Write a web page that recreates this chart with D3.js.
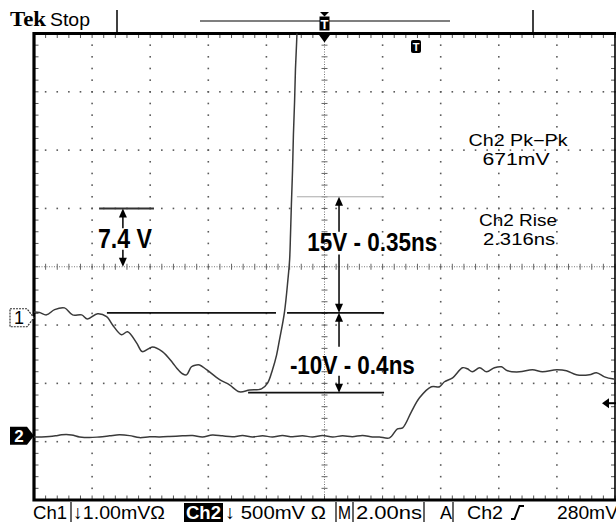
<!DOCTYPE html>
<html>
<head>
<meta charset="utf-8">
<script src="https://cdn.jsdelivr.net/npm/d3@7"></script>
<style>
  body { margin: 0; background: #fff; }
  svg { display: block; }
</style>
</head>
<body>
<div id="scope"></div>
<script>
// horizontal: 2 ns/div, trigger at centre of screen
const nsPerDiv = 2.0;
const ch1PerDiv = 1.0;   // mV/div
const ch2PerDiv = 500;   // mV/div
const ch1Offset = -0.875; // ground marker position, div
const ch2Offset = -2.9;
const triggerLevel = 280; // mV on Ch2

const ch1Time = [-10.0, -9.81, -9.57, -9.29, -8.95, -8.67, -8.36, -8.16, -7.81, -7.5, -7.3, -6.99, -6.78, -6.47, -6.27, -6.02, -5.92, -5.58, -5.23, -5.09, -4.89, -4.75, -4.58, -4.41, -4.3, -4.06, -3.61, -3.27, -2.93, -2.58, -2.17, -1.96, -1.79, -1.65, -1.55, -1.38, -1.26, -1.2, -1.17, -1.14, -1.1, -1.07, -1.03, -1.0, -0.96, -0.93];
const ch1Mv = [0.10, 0.09, 0.05, 0.14, 0.17, 0.05, 0.05, -0.02, 0.07, 0.02, -0.12, -0.29, -0.24, -0.43, -0.58, -0.52, -0.50, -0.58, -0.77, -0.86, -0.96, -0.98, -0.84, -0.81, -0.81, -0.89, -1.06, -1.15, -1.27, -1.24, -1.22, -1.12, -0.89, -0.64, -0.38, 0.09, 0.65, 1.00, 1.43, 1.94, 2.54, 3.14, 3.71, 4.26, 4.72, 5.12];

const ch2Time = [-10.0, -9.74, -9.47, -9.26, -9.05, -8.71, -8.43, -8.09, -7.75, -7.4, -7.06, -6.71, -6.37, -6.02, -5.68, -5.34, -4.89, -4.54, -4.2, -3.86, -3.51, -3.17, -2.82, -2.48, -2.13, -1.79, -1.45, -1.1, -0.76, -0.41, -0.07, 0.28, 0.62, 0.96, 1.31, 1.65, 1.89, 2.24, 2.51, 2.69, 2.99, 3.27, 3.68, 3.96, 4.13, 4.41, 4.75, 4.92, 5.09, 5.34, 5.58, 5.85, 6.09, 6.3, 6.71, 7.16, 7.5, 7.99, 8.33, 8.67, 9.12, 9.36, 9.64, 9.91, 10.0];
const ch2Mv = [-9, -9, -6, 0, 9, 8, -9, -15, -9, 0, 9, 2, -15, -8, -9, -6, 0, 3, -9, 8, 0, -7, 2, -9, 0, -9, 3, -8, 0, -9, 2, -9, 0, -7, 3, -9, -9, -17, 60, 69, 206, 326, 421, 421, 464, 498, 584, 575, 549, 584, 549, 584, 592, 558, 549, 567, 549, 567, 558, 524, 524, 541, 506, 489, 489];

const readouts = ["Ch2 Pk\u2212Pk", "671mV", "Ch2 Rise", "2.316ns"];
const statusText = ["Ch1", "\u21931.00mV\u03A9", "Ch2", "\u2193 500mV \u03A9", "M", "2.00ns", "A", "Ch2", "280mV"];

// hand-drawn measurement notes (time in ns, level in screen div)
const noteLabels = ["7.4 V", "15V - 0.35ns", "-10V - 0.4ns"];

const width = 616;
const height = 522;

const svg = d3.select("#scope").append("svg").attr("width", width).attr("height", height);

const x = d3.scaleLinear().domain([-10, 10]).range([34, 615]);
const y = d3.scaleLinear().domain([-4, 4]).range([500, 33.5]);
const xd = (d) => x(d * nsPerDiv);
const y1 = (v) => y(ch1Offset + v / ch1PerDiv);
const y2 = (v) => y(ch2Offset + v / ch2PerDiv);

// graticule
const grid = svg.append("g");
const stepsX = d3.range(0, 51).map((i) => -5 + i * 0.2);
const stepsY = d3.range(0, 41).map((i) => -4 + i * 0.2);

[-4, -3, -2, -1, 1, 2, 3, 4].forEach((gx) => {
  grid.selectAll(null).data(stepsY).enter().append("rect")
    .attr("x", xd(gx) - 0.8).attr("y", (d) => y(d) - 0.8)
    .attr("width", 1.6).attr("height", 1.6).attr("fill", "#5a5a5a");
});
[-3, -2, -1, 1, 2, 3].forEach((gy) => {
  grid.selectAll(null).data(stepsX).enter().append("rect")
    .attr("x", (d) => xd(d) - 0.8).attr("y", y(gy) - 0.8)
    .attr("width", 1.6).attr("height", 1.6).attr("fill", "#5a5a5a");
});

// centre cross
grid.append("line").attr("x1", x(-10)).attr("x2", x(10)).attr("y1", y(0)).attr("y2", y(0))
  .attr("stroke", "#777").attr("stroke-dasharray", "1,1.5");
grid.append("line").attr("x1", x(0)).attr("x2", x(0)).attr("y1", y(-4)).attr("y2", y(4))
  .attr("stroke", "#777").attr("stroke-dasharray", "1,1.5");
grid.selectAll(null).data(stepsX).enter().append("line")
  .attr("x1", (d) => xd(d)).attr("x2", (d) => xd(d))
  .attr("y1", y(0) - 3).attr("y2", y(0) + 3).attr("stroke", "#666");
grid.selectAll(null).data(stepsY).enter().append("line")
  .attr("y1", (d) => y(d)).attr("y2", (d) => y(d))
  .attr("x1", x(0) - 3).attr("x2", x(0) + 3).attr("stroke", "#666");

// edge ticks
grid.selectAll(null).data(stepsX).enter().append("line")
  .attr("x1", (d) => xd(d)).attr("x2", (d) => xd(d))
  .attr("y1", y(4)).attr("y2", y(4) + 4.5).attr("stroke", "#555");
grid.selectAll(null).data(stepsX).enter().append("line")
  .attr("x1", (d) => xd(d)).attr("x2", (d) => xd(d))
  .attr("y1", y(-4)).attr("y2", y(-4) - 4.5).attr("stroke", "#555");
grid.selectAll(null).data(stepsY).enter().append("line")
  .attr("y1", (d) => y(d)).attr("y2", (d) => y(d))
  .attr("x1", x(-10)).attr("x2", x(-10) + 4.5).attr("stroke", "#555");
grid.selectAll(null).data(stepsY).enter().append("line")
  .attr("y1", (d) => y(d)).attr("y2", (d) => y(d))
  .attr("x1", x(10)).attr("x2", x(10) - 4).attr("stroke", "#555");

// frame
svg.append("path")
  .attr("d", `M${x(10) + 2},${y(4)}H${x(-10)}V${y(-4)}H${x(10) + 2}`)
  .attr("fill", "none").attr("stroke", "#000").attr("stroke-width", 3.2);
svg.append("line").attr("x1", x(10)).attr("x2", x(10)).attr("y1", y(4)).attr("y2", y(-4))
  .attr("stroke", "#000").attr("stroke-width", 1.6);

// traces
svg.append("clipPath").attr("id", "screen").append("rect")
  .attr("x", x(-10)).attr("y", y(4)).attr("width", x(10) - x(-10)).attr("height", y(-4) - y(4));

const line = d3.line().curve(d3.curveCatmullRom.alpha(0.5));
const traces = svg.append("g").attr("clip-path", "url(#screen)");
traces.append("path")
  .attr("d", line(ch1Time.map((t, i) => [x(t), y1(ch1Mv[i])])))
  .attr("fill", "none").attr("stroke", "#3a3a3a").attr("stroke-width", 1.5);
traces.append("path")
  .attr("d", line(ch2Time.map((t, i) => [x(t), y2(ch2Mv[i])])))
  .attr("fill", "none").attr("stroke", "#3a3a3a").attr("stroke-width", 1.5);

// notes: reference lines
const notes = svg.append("g");
const hline = (t0, t1, d, stroke, w) =>
  notes.append("line").attr("x1", x(t0)).attr("x2", x(t1)).attr("y1", y(d)).attr("y2", y(d))
    .attr("stroke", stroke).attr("stroke-width", w);
hline(-7.76, -5.87, 1.0, "#333", 2);
hline(-7.49, -1.67, -0.79, "#111", 1.8);
hline(-1.29, 2.05, -0.79, "#111", 1.8);
hline(-2.63, 2.05, -2.16, "#111", 1.8);
hline(-0.95, 2.05, 1.2, "#aaa", 1);

// arrows: shaft from d0 to d1, head at d1
const arrow = (t, d0, d1) => {
  const px = x(t);
  const a = y(d0);
  const b = y(d1);
  const dir = b > a ? 1 : -1;
  notes.append("line").attr("x1", px).attr("x2", px).attr("y1", a).attr("y2", b - dir * 8)
    .attr("stroke", "#000").attr("stroke-width", 1.5);
  notes.append("path")
    .attr("d", `M${px - 4},${b - dir * 9}L${px + 4},${b - dir * 9}L${px},${b}Z`)
    .attr("fill", "#000");
};
arrow(-6.94, 0.66, 1.0);
arrow(-6.94, 0.29, 0.0);
arrow(0.5, 0.6, 1.2);
arrow(0.5, 0.21, -0.79);
arrow(0.5, -1.37, -0.79);
arrow(0.5, -1.87, -2.16);

const noteText = (label, t, d, size, w) =>
  notes.append("text").attr("x", x(t) - w / 2).attr("y", y(d))
    .attr("font-family", "Liberation Sans, Arial, sans-serif").attr("font-weight", "bold")
    .attr("font-size", size).attr("textLength", w).attr("lengthAdjust", "spacingAndGlyphs")
    .text(label);
noteText(noteLabels[0], -6.87, 0.32, 27, 54);
noteText(noteLabels[1], 1.64, 0.27, 25, 130);
noteText(noteLabels[2], 0.96, -1.84, 25, 125);

// readouts on the right
const tekFont = "Liberation Sans, Arial, sans-serif";
const readPos = [[518, 146, 99], [516, 165, 67], [518, 226, 78], [519, 245, 72]];
svg.selectAll(".readout").data(readouts).enter().append("text")
  .attr("class", "readout")
  .attr("x", (d, i) => readPos[i][0] - readPos[i][2] / 2)
  .attr("y", (d, i) => readPos[i][1])
  .attr("font-family", tekFont).attr("font-size", 16)
  .attr("textLength", (d, i) => readPos[i][2]).attr("lengthAdjust", "spacingAndGlyphs")
  .text((d) => d);

// channel ground markers
const tag = (yc) => `M10,${yc - 9}H27L34,${yc}L27,${yc + 9}H10Z`;
svg.append("path").attr("d", tag(y1(0))).attr("fill", "#fff").attr("stroke", "#333").attr("stroke-width", 1.2)
  .attr("stroke-dasharray", "2,1");
svg.append("text").attr("x", 19).attr("y", y1(0) + 6.5).attr("text-anchor", "middle")
  .attr("font-family", tekFont).attr("font-size", 18).text("1");
svg.append("path").attr("d", tag(y2(0))).attr("fill", "#000");
svg.append("text").attr("x", 19).attr("y", y2(0) + 6.5).attr("text-anchor", "middle")
  .attr("font-family", tekFont).attr("font-weight", "bold").attr("font-size", 17).attr("fill", "#fff").text("2");

// trigger level marker
const ty = y2(triggerLevel);
svg.append("path").attr("d", `M${x(10) - 13},${ty}L${x(10) - 6},${ty - 5}L${x(10) - 6},${ty + 5}Z`).attr("fill", "#000");
svg.append("line").attr("x1", x(10) - 7).attr("x2", x(10) + 2).attr("y1", ty).attr("y2", ty)
  .attr("stroke", "#000").attr("stroke-width", 2);

// trigger point icon inside screen
svg.append("rect").attr("x", 411).attr("y", 40).attr("width", 10).attr("height", 13).attr("rx", 2).attr("fill", "#000");
svg.append("text").attr("x", 416).attr("y", 51).attr("text-anchor", "middle")
  .attr("font-family", tekFont).attr("font-weight", "bold").attr("font-size", 11).attr("fill", "#fff").text("T");

// top bar
svg.append("text").attr("x", 10).attr("y", 26).attr("font-family", "Liberation Serif, serif")
  .attr("font-weight", "bold").attr("font-size", 21).attr("textLength", 36).attr("lengthAdjust", "spacingAndGlyphs").text("Tek");
svg.append("text").attr("x", 50).attr("y", 26).attr("font-family", tekFont)
  .attr("font-size", 19).attr("textLength", 40).attr("lengthAdjust", "spacingAndGlyphs").text("Stop");
[117, 533].forEach((sx) => {
  svg.append("line").attr("x1", sx).attr("x2", sx).attr("y1", 10).attr("y2", 33)
    .attr("stroke", "#000").attr("stroke-width", 1.5);
});
svg.append("line").attr("x1", 200).attr("x2", 450).attr("y1", 21).attr("y2", 21)
  .attr("stroke", "#555").attr("stroke-width", 1.5);
const tx = x(0);
svg.append("path").attr("d", `M${tx - 4.5},12H${tx + 4.5}L${tx},16.5Z`).attr("fill", "#000");
svg.append("rect").attr("x", tx - 5).attr("y", 16.5).attr("width", 10).attr("height", 14).attr("fill", "#000");
svg.append("text").attr("x", tx).attr("y", 28.5).attr("text-anchor", "middle")
  .attr("font-family", tekFont).attr("font-weight", "bold").attr("font-size", 13).attr("fill", "#fff").text("T");
svg.append("path").attr("d", `M${tx - 6.5},${y(4)}H${tx + 6.5}L${tx},${y(4) + 9}Z`).attr("fill", "#000");

// status bar
const statusSpans = [[33, 67], [73, 165], [186, 221], [225, 326], [338, 351], [356, 422], [440, 452], [467, 503], [557, 618]];
svg.append("rect").attr("x", 184).attr("y", 503).attr("width", 39).attr("height", 19).attr("fill", "#000");
svg.selectAll(".status").data(statusText).enter().append("text")
  .attr("class", "status")
  .attr("x", (d, i) => statusSpans[i][0])
  .attr("y", 519)
  .attr("font-family", tekFont).attr("font-size", 19)
  .attr("fill", (d, i) => (i === 2 ? "#fff" : "#000"))
  .attr("font-weight", (d, i) => (i === 2 ? "bold" : "normal"))
  .attr("textLength", (d, i) => statusSpans[i][1] - statusSpans[i][0])
  .attr("lengthAdjust", "spacingAndGlyphs")
  .text((d) => d);
[71, 336, 353, 424, 453].forEach((sx) => {
  svg.append("line").attr("x1", sx).attr("x2", sx).attr("y1", 502).attr("y2", 522)
    .attr("stroke", "#000").attr("stroke-width", 1.2);
});
// rising-edge slope symbol
svg.append("path").attr("d", "M511,519H514.5L519.5,506H524").attr("fill", "none")
  .attr("stroke", "#000").attr("stroke-width", 2);
</script>
</body>
</html>
